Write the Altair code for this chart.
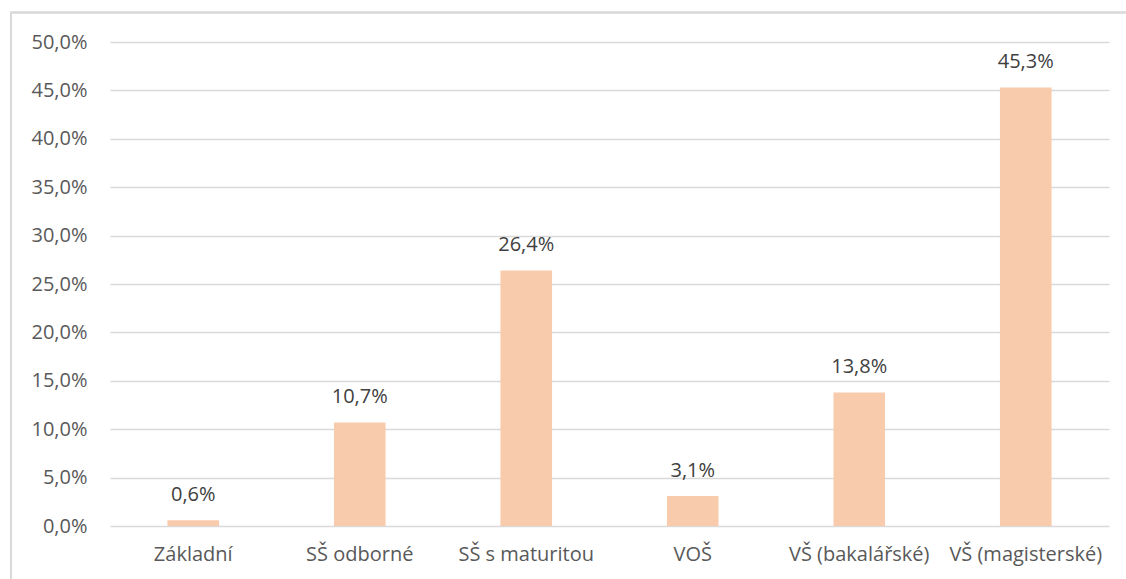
import altair as alt
import pandas as pd

# Education level shares (percent)
levels = ["Základní", "SŠ odborné", "SŠ s maturitou", "VOŠ", "VŠ (bakalářské)", "VŠ (magisterské)"]
shares = [0.6, 10.7, 26.4, 3.1, 13.8, 45.3]
share_labels = ["0,6%", "10,7%", "26,4%", "3,1%", "13,8%", "45,3%"]
y_ticks = [0, 5, 10, 15, 20, 25, 30, 35, 40, 45, 50]

df = pd.DataFrame({"level": levels, "share": shares, "label": share_labels})

FONT = "Open Sans"
FS = 20
BAR = "#F8CBAD"
GRID = "#D9D9D9"

x_enc = alt.X(
    "level:N",
    sort=levels,
    title=None,
    scale=alt.Scale(paddingInner=0.69, paddingOuter=0.345),
    axis=alt.Axis(labelAngle=0, ticks=False, domain=False, labelPadding=18,
                  labelFontSize=FS, labelColor="#595959", labelFont=FONT),
)
y_enc = alt.Y(
    "share:Q",
    title=None,
    scale=alt.Scale(domain=[0, 50], nice=False),
    axis=alt.Axis(values=y_ticks, labelExpr="replace(format(datum.value, '.1f'), '.', ',') + '%'",
                  ticks=False, domain=False, gridColor=GRID, gridWidth=1.3,
                  labelPadding=23, labelFontSize=FS, labelColor="#595959", labelFont=FONT),
)

bars = alt.Chart(df).mark_bar(color=BAR).encode(x=x_enc, y=y_enc)

labels = alt.Chart(df).mark_text(
    baseline="alphabetic", dy=-19, fontSize=FS, color="#404040", font=FONT
).encode(x=alt.X("level:N", sort=levels), y="share:Q", text="label:N")

frame = alt.Chart(df).mark_rect(fill=None, stroke=GRID, strokeWidth=1.5).encode(
    x=alt.value(-99), x2=alt.value(1130), y=alt.value(-29.5), y2=alt.value(600)
)

chart = (
    alt.layer(frame, bars, labels)
    .properties(
        width=999,
        height=484,
        padding={"left": 110, "top": 42, "right": 17, "bottom": 53},
        autosize=alt.AutoSizeParams(type="none"),
        background="white",
    )
    .configure_view(stroke=None)
)

chart.save("out.html", embed_options={"renderer": "svg", "actions": False})
